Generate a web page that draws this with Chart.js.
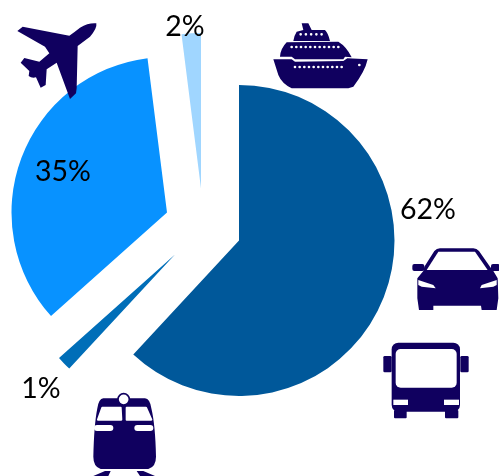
<!DOCTYPE html>
<html><head><meta charset="utf-8">
<script src="https://cdn.jsdelivr.net/npm/chart.js@4"></script>
<style>
html,body{margin:0;padding:0;background:#fff;overflow:hidden}
#wrap{position:relative;width:499px;height:476px}
canvas{position:absolute;left:0;top:0}
svg{position:absolute;left:0;top:0}
</style></head><body>
<div id="wrap">
<canvas id="c" width="499" height="476"></canvas>
<svg width="499" height="476" viewBox="0 0 499 476">
<!-- plane -->
<g transform="scale(0.33333)" fill="#10005f">
<path d="M52 93L68 80L208 107Q225 95 240 83Q265 68 289 70Q292 85 270 110L233 138L230 265L228 280L210 297L170 188L140 208L137 255L122 263L108 232Q95 235 86 228L88 213L62 188L73 174L118 185L148 160L135 140Z"/>
</g>
<!-- ship -->
<g transform="translate(260,15) scale(0.33333)">
<path fill="#10005f" d="M125 25L145 25L155 45L195 45Q205 55 210 78L100 78Q103 60 110 50L130 45Z"/>
<path fill="#10005f" d="M60 125Q62 100 80 82L235 80Q260 95 275 127L255 125L250 133L105 133L95 125Z"/>
<path fill="#10005f" d="M40 133L95 133L105 140L250 138L262 130L323 133Q315 170 280 215L265 220L95 220Q65 205 55 180Z"/>
<g stroke="#fff" stroke-width="8" stroke-linecap="round" fill="none">
<path stroke-dasharray="0 15.7" d="M122 58H186"/>
<path stroke-dasharray="0 14" d="M95 96H236"/>
<path stroke-dasharray="0 14" d="M105 156H246"/>
<path stroke-dasharray="0 10" d="M298 150H299"/>
</g>
</g>
<!-- car -->
<g transform="translate(375,235) scale(0.33333)">
<path fill="#10005f" d="M148 95L178 48Q185 40 195 40L295 40Q305 40 312 48L345 95L355 108L368 130L370 190L365 225L320 225L318 212L175 212L175 225L132 225L127 190L127 130L145 108Z"/>
<rect x="112" y="87" width="36" height="21" rx="6" fill="#10005f"/>
<rect x="348" y="87" width="26" height="21" rx="6" fill="#10005f"/>
<path fill="#fff" d="M155 105L190 50L300 50L338 105Z"/>
<path fill="#fff" d="M130 135L175 150L182 160L140 155L130 150Z"/>
<path fill="#fff" d="M365 135L320 150L315 160L355 155L365 150Z"/>
</g>
<!-- bus -->
<g transform="translate(375,235) scale(0.33333)" fill="#10005f">
<rect x="50" y="323" width="205" height="207" rx="20"/>
<rect x="57" y="525" width="38" height="25" rx="3"/>
<rect x="210" y="525" width="40" height="25" rx="3"/>
<rect x="25" y="363" width="25" height="49" rx="4"/>
<rect x="256" y="363" width="25" height="49" rx="4"/>
<rect x="62" y="342" width="183" height="116" rx="15" fill="#fff"/>
<rect x="55" y="494" width="44" height="16" fill="#fff"/>
<rect x="207" y="494" width="45" height="16" fill="#fff"/>
</g>
<!-- train -->
<g transform="translate(80,385) scale(0.33333)">
<path fill="#10005f" d="M70 40L195 40Q210 42 214 70Q226 120 228 215Q228 245 205 252L62 252Q40 245 40 215Q42 120 52 70Q56 42 70 40Z"/>
<circle cx="131" cy="43" r="17" fill="#fff" stroke="#10005f" stroke-width="5"/>
<path fill="#fff" stroke="#fff" stroke-width="6" stroke-linejoin="round" d="M67 68L122 68L124 104L54 104Z"/>
<path fill="#fff" stroke="#fff" stroke-width="6" stroke-linejoin="round" d="M140 68L198 68L214 104L140 104Z"/>
<rect x="42" y="120" width="58" height="18" rx="9" fill="#fff"/>
<rect x="163" y="120" width="57" height="18" rx="9" fill="#fff"/>
<path fill="#10005f" d="M40 273L75 258L92 258L85 273Z"/>
<path fill="#10005f" d="M170 258L190 258L225 273L180 273Z"/>
</g>
</svg>
</div>
<script>
const categories = ["Road: car and bus", "Rail", "Air", "Sea"];
const shareValues = [61.9, 1.5, 34.6, 2.0];
const percentLabels = ["62%", "1%", "35%", "2%"];
const sliceColors = ["#00589a", "#006eb8", "#0892ff", "#a0d6ff"];
const sliceShiftX = [0, -64, -72, -38];
const sliceShiftY = [0, 14, -28, -52];
const labelAnchorX = [428, 41, 63, 185];
const labelAnchorY = [210, 389, 172, 27];

const explodePlugin = {
  id: "explode",
  afterDatasetsUpdate(chart) {
    chart.getDatasetMeta(0).data.forEach((arc, i) => {
      arc.x += sliceShiftX[i];
      arc.y += sliceShiftY[i];
    });
  },
  afterDatasetsDraw(chart) {
    const ctx = chart.ctx;
    ctx.save();
    ctx.font = '28.5px Lato, "Open Sans", sans-serif';
    ctx.fillStyle = "#000";
    ctx.textAlign = "center";
    ctx.textBaseline = "middle";
    percentLabels.forEach((t, i) => ctx.fillText(t, labelAnchorX[i], labelAnchorY[i]));
    ctx.restore();
  }
};

new Chart(document.getElementById("c"), {
  type: "pie",
  data: {
    labels: categories,
    datasets: [{ data: shareValues, backgroundColor: sliceColors, borderWidth: 0, radius: 155.5 }]
  },
  options: {
    responsive: false,
    animation: false,
    events: [],
    layout: { padding: { left: 0, right: 21, top: 5, bottom: 0 } },
    plugins: { legend: { display: false }, tooltip: { enabled: false } }
  },
  plugins: [explodePlugin]
});
</script>
</body></html>
